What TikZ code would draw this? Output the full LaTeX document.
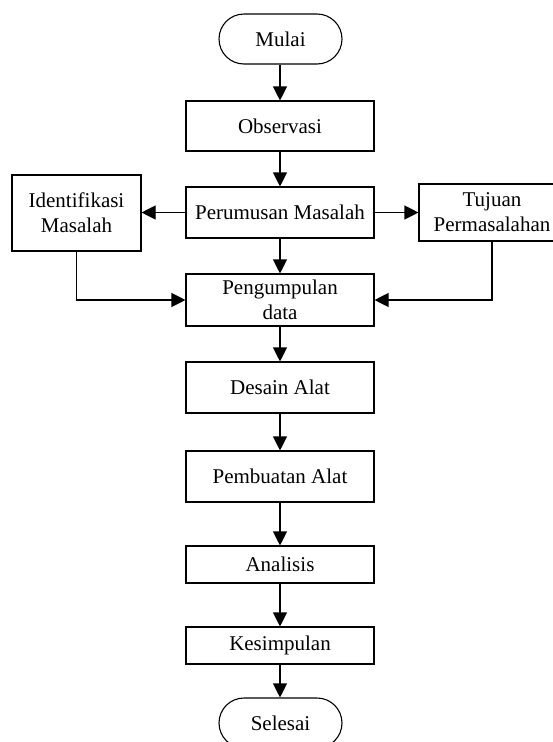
\documentclass[tikz,border=0pt]{standalone}
\usepackage{fontspec}
\setmainfont{Liberation Serif}
\usetikzlibrary{arrows.meta,positioning}
\begin{document}
\begin{tikzpicture}[x=1pt,y=-1pt,
  every node/.style={font=\fontsize{21}{25}\selectfont, align=center, inner sep=0pt},
  procbox/.style={draw, line width=1.1pt, rectangle, minimum width=188pt},
  termbox/.style={draw, line width=1.1pt, rectangle, rounded corners=25pt, minimum width=123pt, minimum height=50pt},
  flow/.style={line width=1.1pt, -{Triangle[length=14pt,width=14pt]}}
]
\clip (0,0) rectangle (553,742);
\useasboundingbox (0,0) rectangle (553,742);
\node[termbox] (mulai) at (280.5,39) {Mulai};
\node[procbox, minimum height=50pt] (obs) at (280,126) {Observasi};
\node[procbox, minimum height=51pt] (rum) at (280,212.5) {Perumusan Masalah};
\node[draw, line width=1.1pt, minimum width=129pt, minimum height=76pt] (ide) at (76.5,213) {Identifikasi\\Masalah};
\node[draw, line width=1.1pt, minimum width=146pt, minimum height=57pt] (tuj) at (492,212.5) {Tujuan\\Permasalahan};
\node[procbox, minimum height=52pt] (peng) at (280,300) {Pengumpulan\\data};
\node[procbox, minimum height=51pt] (des) at (280,387.5) {Desain Alat};
\node[procbox, minimum height=51pt] (pem) at (280,476.5) {Pembuatan Alat};
\node[procbox, minimum height=37pt] (ana) at (280,564.5) {Analisis};
\node[procbox, minimum height=37pt] (kes) at (280,645.5) {Kesimpulan};
\node[termbox] (sel) at (280.5,723) {Selesai};

\draw[flow] (mulai.south -| obs.north) -- (obs.north);
\draw[flow] (obs) -- (rum);
\draw[flow] (rum.west) -- (rum.west -| ide.east);
\draw[flow] (rum.east) -- (rum.east -| tuj.west);
\draw[flow] (rum) -- (peng);
\draw[flow] (ide.south) |- (peng.west);
\draw[flow] (tuj.south) |- (peng.east);
\draw[flow] (peng) -- (des);
\draw[flow] (des) -- (pem);
\draw[flow] (pem) -- (ana);
\draw[flow] (ana) -- (kes);
\draw[flow] (kes.south) -- (kes.south |- sel.north);
\end{tikzpicture}
\end{document}
